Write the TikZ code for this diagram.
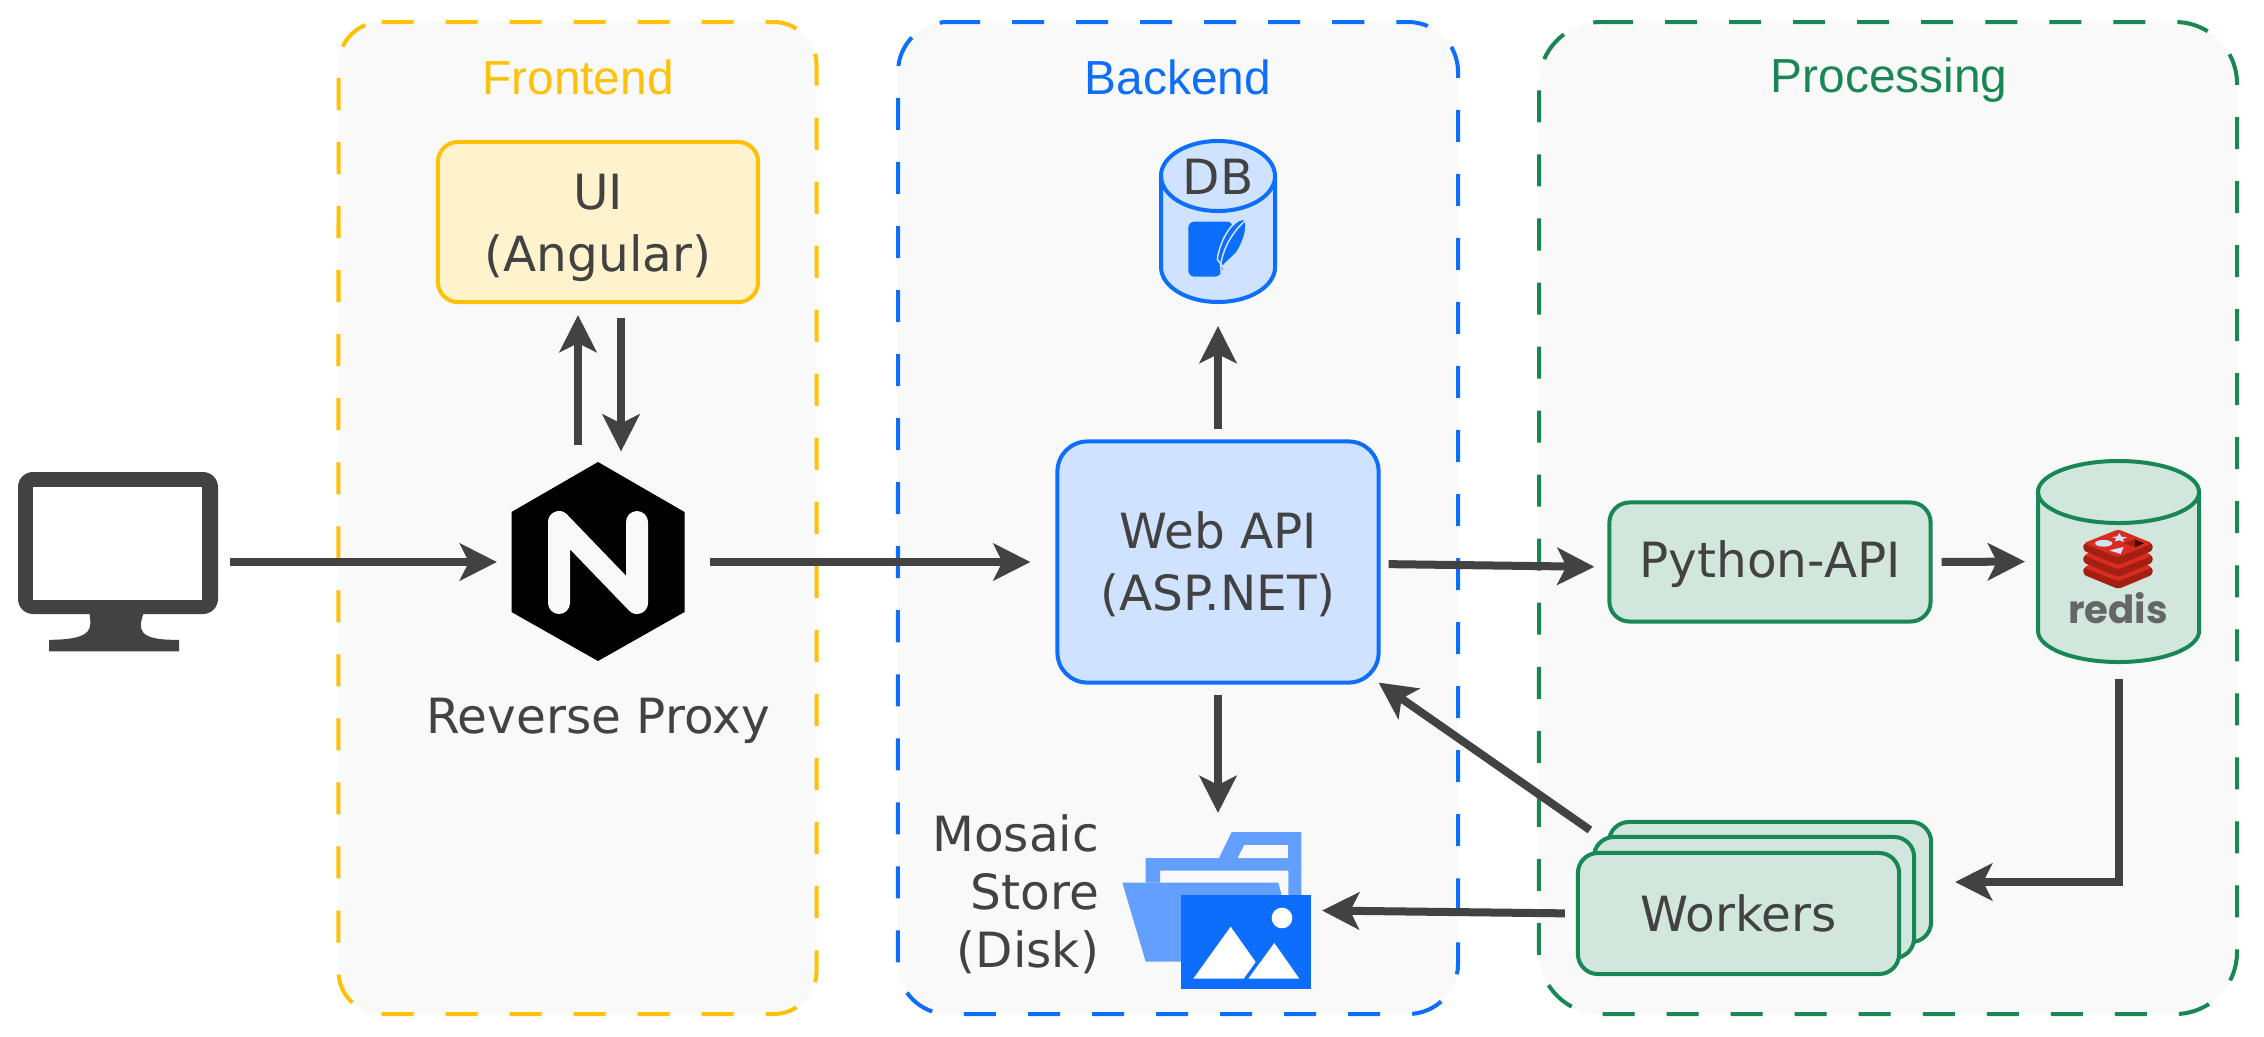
\documentclass[tikz,border=0pt]{standalone}
\usepackage{fontspec}
\setmainfont{DejaVu Sans}
\newfontfamily\titlefont{Liberation Sans}
\newfontfamily\redisfont{Poppins}
\usepackage{tikz}
\usetikzlibrary{arrows.meta}
\definecolor{inkgrey}{HTML}{424242}
\definecolor{panelgrey}{HTML}{F9F9F9}
\definecolor{frontline}{HTML}{FFC107}
\definecolor{frontfill}{HTML}{FFF3CD}
\definecolor{backline}{HTML}{0D6EFD}
\definecolor{backfill}{HTML}{CFE2FF}
\definecolor{procline}{HTML}{198754}
\definecolor{procfill}{HTML}{D1E7DD}
\definecolor{folderblue}{HTML}{629FFF}
\definecolor{redisred}{HTML}{D82C20}
\definecolor{redisdark}{HTML}{A41E11}

\begin{document}
\begin{tikzpicture}[x=0.01cm,y=-0.01cm,
                        every node/.style={inner sep=0pt, outer sep=0pt, text=inkgrey,
                                           font=\fontsize{13.8}{17.6}\selectfont, align=center},
                        panel/.style={rectangle, fill=panelgrey},
                        paneledge/.style={line width=0.4mm, dash pattern=on 3.2mm off 3.2mm},
                        paneltitle/.style={font=\titlefont\fontsize{13.6}{16}\selectfont},
                        box/.style={rectangle, rounded corners=2mm, line width=0.4mm},
                        frontbox/.style={box, draw=frontline, fill=frontfill},
                        backbox/.style={box, draw=backline, fill=backfill},
                        procbox/.style={box, draw=procline, fill=procfill},
                        can/.style={line width=0.4mm},
                        icon/.style={rectangle},
                        flow/.style={draw=inkgrey, line width=0.8mm,
                                     -{Stealth[length=3.7mm,width=3.7mm,inset=0.9mm]}}]
    \useasboundingbox (0,0) rectangle (2264,1036);

    % the three panels
    \node[panel, rounded corners=4.3mm, minimum width=47.8mm, minimum height=99.2mm] (frontpanel) at (577.5,518) {};
    \node[panel, rounded corners=5mm, minimum width=56mm, minimum height=99.2mm] (backpanel) at (1178,518) {};
    \node[panel, rounded corners=6.2mm, minimum width=69.8mm, minimum height=99.2mm] (procpanel) at (1888,518) {};
    \draw[paneledge, draw=frontline] (381.5,22) -- (773.5,22) arc[start angle=90, end angle=0, radius=4.3mm]
      -- (816.5,971) arc[start angle=0, end angle=-90, radius=4.3mm]
      -- (381.5,1014) arc[start angle=-90, end angle=-180, radius=4.3mm]
      -- (338.5,65) arc[start angle=180, end angle=90, radius=4.3mm];
    \draw[paneledge, draw=backline] (948,22) -- (1408,22) arc[start angle=90, end angle=0, radius=5mm]
      -- (1458,964) arc[start angle=0, end angle=-90, radius=5mm]
      -- (948,1014) arc[start angle=-90, end angle=-180, radius=5mm]
      -- (898,72) arc[start angle=180, end angle=90, radius=5mm];
    \draw[paneledge, draw=procline] (1601,22) -- (2175,22) arc[start angle=90, end angle=0, radius=6.2mm]
      -- (2237,952) arc[start angle=0, end angle=-90, radius=6.2mm]
      -- (1601,1014) arc[start angle=-90, end angle=-180, radius=6.2mm]
      -- (1539,84) arc[start angle=180, end angle=90, radius=6.2mm];
    \node[paneltitle, text=frontline] at (578,77) {Frontend};
    \node[paneltitle, text=backline] at (1178,77) {Backend};
    \node[paneltitle, text=procline] at (1889,80) {Processing};

    % client screen
    \node[icon, minimum width=20mm, minimum height=18mm] (client) at (118,562) {};
    \fill[inkgrey, rounded corners=1.5mm] (18,472) rectangle (218,614);
    \fill[white] (33,487) rectangle (202,600);
    \begin{scope}[shift={(0,440)},xscale=0.459,yscale=0.333]
      \fill[inkgrey] (195,520) .. controls (198,560) and (210,600) .. (107,600) -- (107,635) -- (390,635) -- (390,600)
        .. controls (300,602) and (300,570) .. (313,520) -- cycle;
    \end{scope}

    % reverse proxy
    \node[icon, minimum width=17.3mm, minimum height=19.9mm] (nginx) at (598,562) {};
    \fill[black] (598,462) -- (684.5,512) -- (684.5,612) -- (598,661) -- (511.5,612) -- (511.5,512) -- cycle;
    \draw[panelgrey, line width=2.2mm, line cap=round, line join=round] (559,603) -- (559,522) -- (637,603) -- (637,522);
    \node at (598,721) {Reverse Proxy};

    \node[frontbox, minimum width=32mm, minimum height=16mm] (ui) at (598,222) {\rule{0pt}{13.5pt}UI\\(Angular)};

    % backend
    \node[backbox, rounded corners=3mm, minimum width=32.1mm, minimum height=24.1mm] (webapi) at (1218,562) {\rule{0pt}{11.8pt}Web API\\(ASP.NET)};
    \node[icon, minimum width=11.4mm, minimum height=16.1mm] (db) at (1218,221.5) {};
    \draw[can, draw=backline, fill=backfill] (1161,176) -- (1161,267) arc[start angle=180, end angle=360, x radius=5.7mm, y radius=3.5mm]
      -- (1275,176) arc[start angle=0, end angle=180, x radius=5.7mm, y radius=3.5mm] -- cycle;
    \draw[can, draw=backline] (1161,176) arc[start angle=180, end angle=360, x radius=5.7mm, y radius=3.5mm];
    \node at (1218,177) {DB};
    \begin{scope}[shift={(1100,100)},scale=0.3333]
      \fill[backline, rounded corners=0.6mm] (265,365) -- (400,365) -- (362,530) -- (265,530) -- cycle;
      \fill[backline, draw=backfill, line width=0.15mm] (430,357) .. controls (395,362) and (360,420) .. (352,478) -- (368,500)
        .. controls (375,490) and (395,475) .. (410,458) .. controls (430,430) and (450,370) .. (430,357) -- cycle;
      \draw[backfill, line width=0.15mm] (432,365) .. controls (400,395) and (370,440) .. (362,495) -- (366,552);
    \end{scope}

    \node[icon, minimum width=20.8mm, minimum height=15.7mm] (store) at (1218,910.5) {};
    \begin{scope}[shift={(1080,780)},scale=0.3333]
      \fill[folderblue] (455,156) -- (664,156) -- (664,346) -- (625,346) -- (625,272) -- (240,272) -- (240,308)
        -- (197,308) -- (197,234) -- (417,234) -- cycle;
      \fill[panelgrey] (493,195) -- (624,195) -- (624,234) -- (473,234) -- cycle;
      \fill[folderblue] (127,308) -- (595,308) -- (640,480) -- (640,545) -- (197,545) -- cycle;
      \fill[backline] (303,346) rectangle (692,628);
      \fill[white] (606,414) circle (31);
      \fill[white] (340,596) -- (452,440) -- (527,546) -- (491,596) -- cycle;
      \fill[white] (505,596) -- (583,489) -- (658,596) -- cycle;
    \end{scope}
    \node[anchor=east, align=right, font=\fontsize{13.8}{16.5}\selectfont] (storelabel) at (1099,894) {Mosaic\\Store\\(Disk)};

    % processing
    \node[procbox, minimum width=32.1mm, minimum height=11.9mm] (python) at (1770,562) {\rule{0pt}{11.8pt}Python-API};
    \node[icon, minimum width=16.1mm, minimum height=20.1mm] (redis) at (2118.5,561.5) {};
    \draw[can, draw=procline, fill=procfill] (2038,492) -- (2038,631) arc[start angle=180, end angle=360, x radius=8.05mm, y radius=3.1mm]
      -- (2199,492) arc[start angle=0, end angle=180, x radius=8.05mm, y radius=3.1mm] -- cycle;
    \draw[can, draw=procline] (2038,492) arc[start angle=180, end angle=360, x radius=8.05mm, y radius=3.1mm];
    \begin{scope}[shift={(1980,440)},scale=0.3333]
      \foreach \cy in {382,346,310} {
        \fill[redisdark, rounded corners=0.3mm] (310,\cy) -- (310,\cy+22) -- (415,\cy+65) -- (518,\cy+22) -- (518,\cy) -- cycle;
        \fill[redisred, rounded corners=0.3mm] (310,\cy) -- (415,\cy-42) -- (518,\cy) -- (415,\cy+42) -- cycle;
      }
      \fill[backfill] (418,279) -- (424,290) -- (441,292) -- (428,298) -- (432,306) -- (418,301) -- (404,304) -- (409,296) -- (396,291) -- (412,289) -- cycle;
      \fill[backfill] (371,310) ellipse (26 and 10);
      \fill[backfill] (388,331) -- (431,321) -- (422,342) -- cycle;
      \fill[redisdark] (432,310) -- (465,298) -- (465,322) -- cycle;
      \fill[black!60!redisdark] (465,298) -- (492,310) -- (465,322) -- cycle;
    \end{scope}
    \node[text=black!60, font=\redisfont\bfseries\fontsize{11}{13}\selectfont] at (2118,608) {redis};

    % stacked workers
    \node[procbox, minimum width=32.2mm, minimum height=12mm] (workerback) at (1770,882) {};
    \node[procbox, minimum width=32mm, minimum height=12.1mm] (workermid) at (1754,897.5) {};
    \node[procbox, minimum width=32.1mm, minimum height=12.1mm] (workers) at (1738.5,913.5) {Workers};

    % connectors
    \draw[flow, shorten <=1.2mm, shorten >=1.45mm] (client.east) -- (nginx.west);
    \draw[flow, shorten <=2.55mm, shorten >=2.7mm] (nginx.east) -- (webapi.west);
    \draw[flow, shorten <=1.7mm, shorten >=1.3mm] ([xshift=-2mm]nginx.north) -- ([xshift=-2mm]ui.south);
    \draw[flow, shorten <=1.6mm, shorten >=1.1mm] ([xshift=2.3mm]ui.south) -- ([xshift=2.3mm]nginx.north);
    \draw[flow, shorten <=1.2mm, shorten >=2.4mm] (webapi.north) -- (db.south);
    \draw[flow, shorten <=1.2mm, shorten >=1.9mm] (webapi.south) -- (store.north);
    \draw[flow, shorten <=1mm, shorten >=1.5mm] ([yshift=-0.2mm]webapi.east) -- ([yshift=-0.5mm]python.west);
    \draw[flow, shorten <=1.1mm, shorten >=1.3mm] (python.east) -- (redis.west);
    \draw[flow, shorten <=1.7mm, shorten >=2.4mm] (redis.south) |- (workerback.east);
    \draw[flow] ([shift={(-19,8)}]workerback.north west) -- (webapi.south east);
    \draw[flow, shorten <=1.3mm] (workers.west) -- (store.east);
\end{tikzpicture}
\end{document}
